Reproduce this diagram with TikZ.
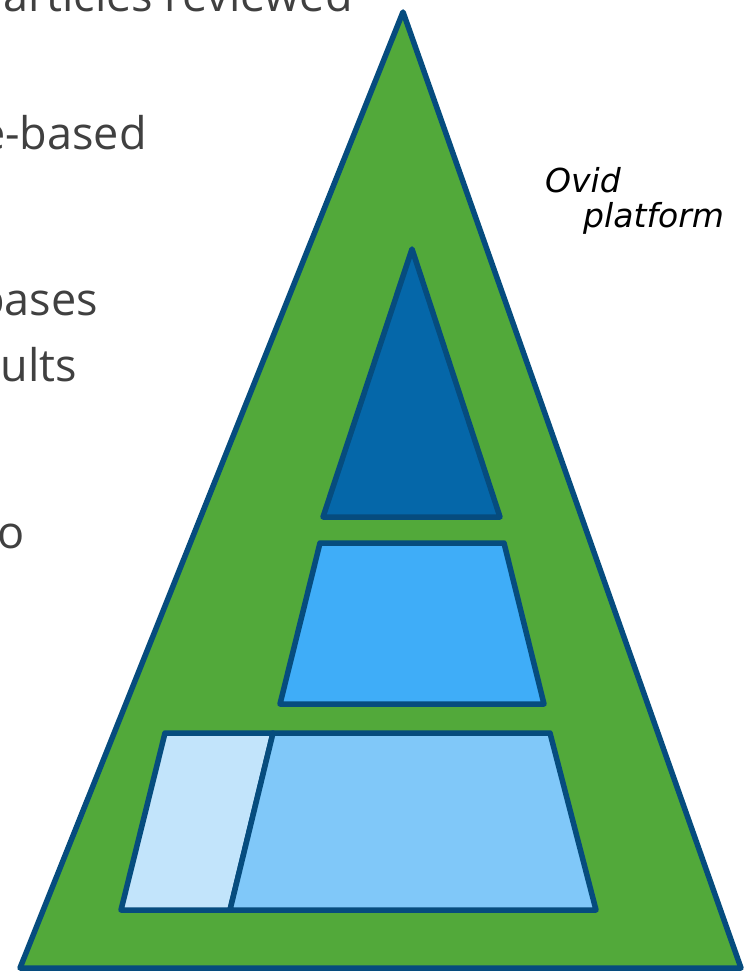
\documentclass[tikz,border=0pt]{standalone}
\usepackage{fontspec}
\setmainfont{Open Sans}
\newfontfamily\ovidfont{DejaVu Sans}
\definecolor{edge}{HTML}{064C7E}
\definecolor{grass}{HTML}{52A93A}
\definecolor{deep}{HTML}{0567A9}
\definecolor{mid}{HTML}{3FADF8}
\definecolor{light}{HTML}{80C8F9}
\definecolor{pale}{HTML}{C2E4FB}
\definecolor{txt}{HTML}{404040}
\tikzset{
  layer/.style={draw=edge, line width=5.5pt, line join=round},
  listtext/.style={inner sep=0pt, anchor=base east, text=txt, font=\fontsize{45}{54}\selectfont},
  ovid/.style={inner sep=0pt, anchor=base west, text=black, font=\ovidfont\itshape\fontsize{33}{40}\selectfont}
}
\begin{document}
\begin{tikzpicture}[x=1pt,y=-1pt]
\useasboundingbox (0,0) rectangle (748,973);
\clip (0,0) rectangle (748,973);
% outer green triangle
\filldraw[layer, fill=grass] (403,12) -- (741,968) -- (20,968) -- cycle;
% top dark triangle
\filldraw[layer, fill=deep] (412,249) -- (500,517) -- (323,517) -- cycle;
% middle trapezoid
\filldraw[layer, fill=mid] (320,543) -- (504,543) -- (544,704) -- (280,704) -- cycle;
% bottom trapezoid
\filldraw[layer, fill=pale] (165,733) -- (273,733) -- (230,910) -- (121,910) -- cycle;
\filldraw[layer, fill=light] (273,733) -- (550,733) -- (596,910) -- (230,910) -- cycle;
% text
\node[listtext] (t1) at (353,12) {articles reviewed};
\node[listtext] (t2) at (147,150) {e-based};
\node[listtext] (t3) at (98,315) {bases};
\node[listtext] (t4) at (77,381) {ults};
\node[listtext] (t5) at (25,548) {o};
\node[ovid] (o1) at (545,193) {Ovid};
\node[ovid] (o2) at (583,228) {platform};
\end{tikzpicture}
\end{document}
